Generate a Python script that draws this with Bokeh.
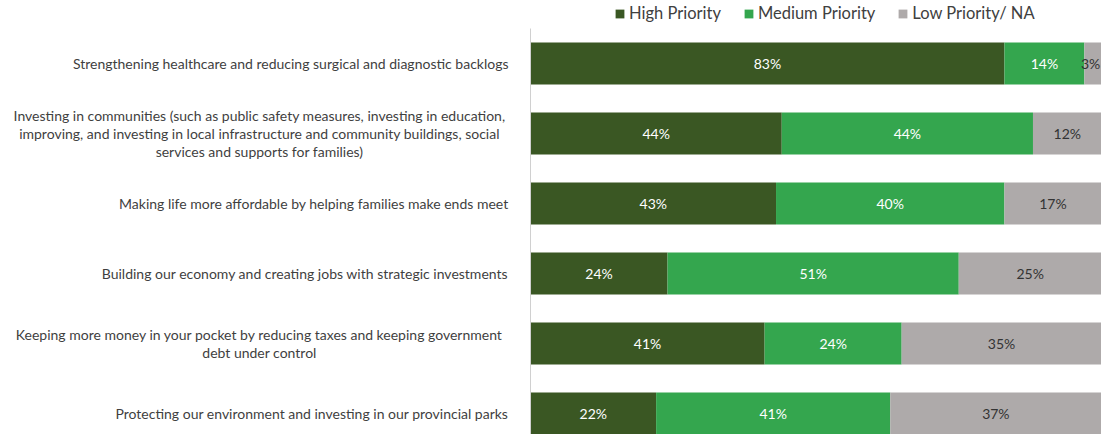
from bokeh.plotting import figure
from bokeh.models import ColumnDataSource, Range1d, Legend, LegendItem, FixedTicker, LinearAxis
from bokeh.core.properties import value
from bokeh.embed import file_html
from bokeh.resources import INLINE

categories = [
    "Strengthening healthcare and reducing surgical and diagnostic backlogs",
    "Investing in communities (such as public safety measures, investing in education,\nimproving, and investing in local infrastructure and community buildings, social\nservices and supports for families)",
    "Making life more affordable by helping families make ends meet",
    "Building our economy and creating jobs with strategic investments",
    "Keeping more money in your pocket by reducing taxes and keeping government\ndebt under control",
    "Protecting our environment and investing in our provincial parks",
]
high = [83, 44, 43, 24, 41, 22]
medium = [14, 44, 40, 51, 24, 41]
low = [3, 12, 17, 25, 35, 37]
series_names = ["High Priority", "Medium Priority", "Low Priority/ NA"]
colors = ["#3A5723", "#34A64E", "#AEAAAA"]
text_colors = ["#FFFFFF", "#FFFFFF", "#333333"]

FONT = "Lato"
LABEL_COLOR = "#3F3F3F"

ypos = [-i for i in range(len(categories))]
src = ColumnDataSource(dict(y=ypos, high=high, medium=medium, low=low))

# frame covers the label area too; x=0 sits at the bar baseline
p = figure(width=1101, height=434, output_backend="svg", toolbar_location=None,
           x_range=Range1d(-530 / 571 * 100, 100), y_range=Range1d(-5.3, 0.9),
           x_axis_location=None, y_axis_location=None,
           min_border_left=0, min_border_right=0, min_border_top=0, min_border_bottom=0)
p.outline_line_color = None
p.xgrid.visible = False
p.ygrid.visible = False

# baseline axis at x = 0
yax = LinearAxis(fixed_location=0, bounds=(-5.3, 0.5), ticker=FixedTicker(ticks=[]),
                 axis_line_color="#D0D0D0", axis_line_width=1, major_tick_line_color=None,
                 minor_tick_line_color=None, major_tick_out=0, major_tick_in=0,
                 major_label_text_font_size="0px", major_label_standoff=0)
p.add_layout(yax, "left")

rs = p.hbar_stack(["high", "medium", "low"], y="y", height=0.6, color=colors,
                  line_color=None, source=src)

# value labels (kept inside the plot's right edge)
stacks = [high, medium, low]
for si, vals in enumerate(stacks):
    xs, ys, ts = [], [], []
    for i, v in enumerate(vals):
        left = sum(stacks[k][i] for k in range(si))
        xs.append(min(left + v / 2, 98.1))
        ys.append(ypos[i])
        ts.append(f"{v}%")
    p.text(x=xs, y=ys, text=ts, text_align="center", text_baseline="middle",
           text_color=text_colors[si], text_font=value(FONT), text_font_size="14px")

# category labels
single = [(y, c) for y, c in zip(ypos, categories) if "\n" not in c]
multi = [(y, c) for y, c in zip(ypos, categories) if "\n" in c]
p.text(x=[0] * len(single), y=[y for y, _ in single], text=[c for _, c in single],
       x_offset=-22, text_align="right", text_baseline="middle",
       text_color=LABEL_COLOR, text_font=value(FONT), text_font_size="14px")
p.text(x=[0] * len(multi), y=[y for y, _ in multi], text=[c for _, c in multi],
       x_offset=-271, text_align="center", text_baseline="middle", text_line_height=1.05,
       text_color=LABEL_COLOR, text_font=value(FONT), text_font_size="14px")

legend = Legend(items=[LegendItem(label=n, renderers=[r]) for n, r in zip(series_names, rs)],
                orientation="horizontal", location=(614, 411),
                label_text_font=FONT, label_text_font_size="16.5px", label_text_color="#404040",
                glyph_width=11, glyph_height=11, label_standoff=4, spacing=22,
                padding=0, margin=0, border_line_color=None, background_fill_alpha=0)
p.add_layout(legend, "center")

open("out.html", "w").write(file_html(p, INLINE))
